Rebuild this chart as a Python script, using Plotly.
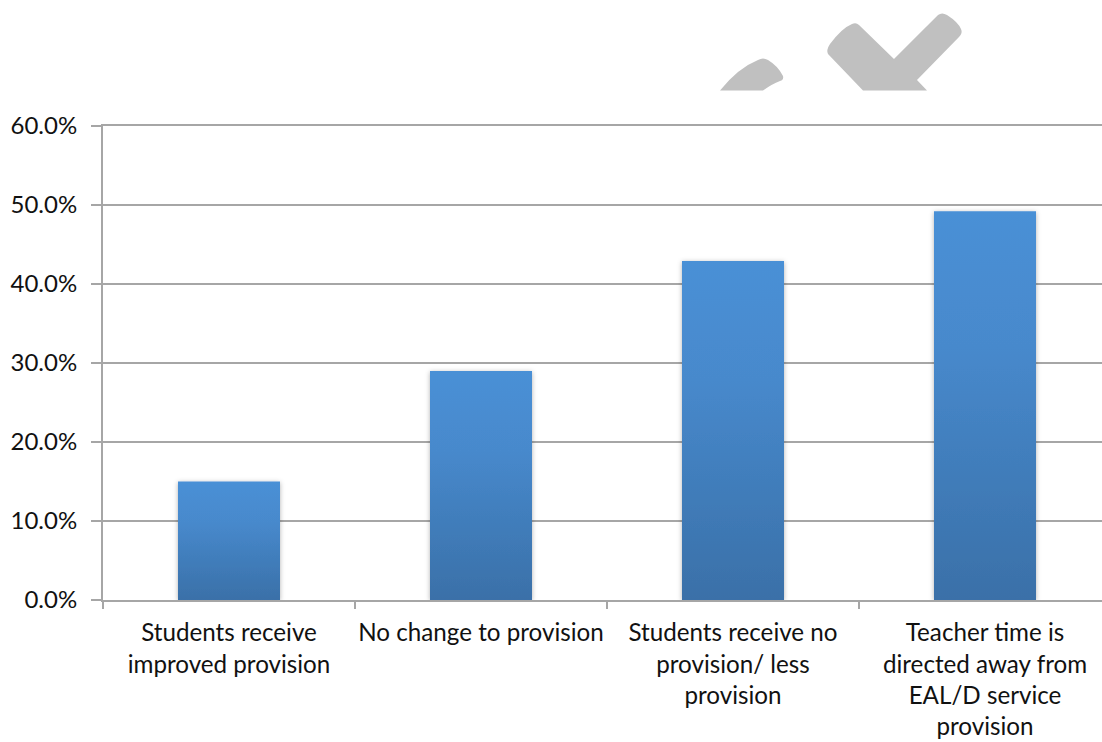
import plotly.graph_objects as go

categories = [
    "Students receive<br>improved provision",
    "No change to provision",
    "Students receive no<br>provision/ less<br>provision",
    "Teacher time is<br>directed away from<br>EAL/D service<br>provision",
]
values = [15.0, 29.0, 42.9, 49.2]
y_ticks = [0, 10, 20, 30, 40, 50, 60]
y_labels = ["0.0%", "10.0%", "20.0%", "30.0%", "40.0%", "50.0%", "60.0%"]

W, H = 1102, 742
L, T, B = 103, 126, 142
plot_w = W - L
plot_h = H - T - B
cat_px = 252
GREY = "#A6A6A6"


def px(x):
    return (x - L) / plot_w


def py(y):
    return 1 - (y - T) / plot_h


def path(cmds):
    out = []
    for c in cmds:
        pts = " ".join(f"{px(c[i]):.5f},{py(c[i + 1]):.5f}" for i in range(1, len(c), 2))
        out.append(f"{c[0]}{pts}")
    return " ".join(out) + " Z"


check = [
    ("M", 863, 90.5), ("L", 828, 54),
    ("Q", 826, 50, 830, 44), ("Q", 842, 28, 852, 24), ("Q", 856, 22, 859, 25),
    ("L", 894, 59), ("L", 938, 15),
    ("Q", 942, 12, 947, 15), ("Q", 958, 22, 961, 29), ("Q", 963, 33, 959, 37),
    ("L", 917, 80), ("L", 927, 90.5),
]
flick = [
    ("M", 720, 90.5), ("Q", 738, 68, 758, 60), ("Q", 763, 57, 768, 60),
    ("Q", 778, 66, 783, 76), ("Q", 784, 80, 780, 81), ("Q", 772, 84, 763, 90.5),
]

fig = go.Figure(
    go.Bar(
        x=categories,
        y=values,
        width=102 / cat_px,
        marker=dict(color="#4A90D6", line=dict(width=0)),
        hoverinfo="skip",
    )
)

shapes = [
    dict(type="path", xref="paper", yref="paper", path=path(s),
         fillcolor="#C0C0C0", line=dict(width=0), layer="above")
    for s in (check, flick)
]

fig.update_layout(
    width=W, height=H,
    margin=dict(l=L, r=0, t=T, b=B, pad=0),
    paper_bgcolor="white", plot_bgcolor="white",
    font=dict(family="Lato, Carlito, sans-serif", size=24.2, color="#111111"),
    showlegend=False,
    shapes=shapes,
    xaxis=dict(
        type="category",
        range=[-0.5, -0.5 + plot_w / cat_px],
        tickson="boundaries",
        ticks="outside", ticklen=7, tickwidth=2, tickcolor=GREY,
        showline=True, linecolor=GREY, linewidth=2, mirror=True,
        showgrid=False, zeroline=False,
        ticklabelstandoff=10,
        tickangle=0,
        automargin=False,
    ),
    yaxis=dict(
        range=[0, 60],
        tickvals=y_ticks, ticktext=y_labels,
        tickfont=dict(size=24),
        ticks="outside", ticklen=10, tickwidth=2, tickcolor=GREY,
        showline=True, linecolor=GREY, linewidth=2,
        showgrid=True, gridcolor=GREY, gridwidth=2,
        zeroline=False,
        ticklabelstandoff=9,
        automargin=False,
    ),
)

post = """
document.body.style.margin = '0';
var gd = document.getElementById('{plot_id}');
var svg = gd.querySelector('svg.main-svg');
var NS = 'http://www.w3.org/2000/svg';
var defs = svg.querySelector('defs');
var g = document.createElementNS(NS, 'linearGradient');
g.setAttribute('id', 'barfade');
g.setAttribute('x1', '0'); g.setAttribute('y1', '0');
g.setAttribute('x2', '0'); g.setAttribute('y2', '1');
[['0', '#4A90D6'], ['0.35', '#4789CC'], ['1', '#3A70A8']].forEach(function (s) {
  var st = document.createElementNS(NS, 'stop');
  st.setAttribute('offset', s[0]); st.setAttribute('stop-color', s[1]);
  g.appendChild(st);
});
defs.appendChild(g);
var f = document.createElementNS(NS, 'filter');
f.setAttribute('id', 'barshadow');
f.setAttribute('x', '-10%'); f.setAttribute('y', '-5%');
f.setAttribute('width', '120%'); f.setAttribute('height', '110%');
var ds = document.createElementNS(NS, 'feDropShadow');
ds.setAttribute('dx', '0'); ds.setAttribute('dy', '1');
ds.setAttribute('stdDeviation', '2.5');
ds.setAttribute('flood-color', '#000'); ds.setAttribute('flood-opacity', '0.3');
f.appendChild(ds);
defs.appendChild(f);
gd.querySelectorAll('.barlayer .point path').forEach(function (p) {
  p.style.fill = 'url(#barfade)';
  p.style.filter = 'url(#barshadow)';
});
"""

fig.write_html("out.html", post_script=post, config=dict(displayModeBar=False))
